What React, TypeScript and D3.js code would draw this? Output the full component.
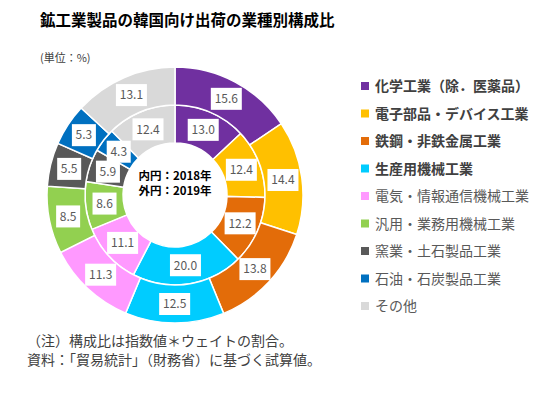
import { useEffect, useRef } from "react";
import * as d3 from "d3";

const categories = [
  "化学工業（除．医薬品）",
  "電子部品・デバイス工業",
  "鉄鋼・非鉄金属工業",
  "生産用機械工業",
  "電気・情報通信機械工業",
  "汎用・業務用機械工業",
  "窯業・土石製品工業",
  "石油・石炭製品工業",
  "その他",
];
const values2018 = [13.0, 12.4, 12.2, 20.0, 11.1, 8.6, 5.9, 4.3, 12.4];
const values2019 = [15.6, 14.4, 13.8, 12.5, 11.3, 8.5, 5.5, 5.3, 13.1];
const colors = [
  "#7030A0", "#FFC000", "#E36C09", "#00CCFF", "#FF99FF",
  "#92D050", "#595959", "#0070C0", "#D9D9D9",
];
const boldLegend = [true, true, true, true, false, false, false, false, false];

const FONT = "'Noto Sans CJK JP', 'Noto Sans', sans-serif";

export default function App() {
  const ref = useRef<SVGGElement>(null);

  useEffect(() => {
    const root = d3.select(ref.current);
    root.selectAll("*").remove();
    const cx = 175, cy = 195;
    const g = root.append("g").attr("transform", `translate(${cx},${cy})`);

    const pie = d3.pie<number>().sort(null).value((d) => d);

    const rings = [
      { data: values2018, r0: 52, r1: 90 },
      { data: values2019, r0: 90, r1: 128 },
    ];

    rings.forEach((ring) => {
      const arc = d3.arc<d3.PieArcDatum<number>>().innerRadius(ring.r0).outerRadius(ring.r1);
      const arcs = pie(ring.data);
      g.append("g")
        .selectAll("path")
        .data(arcs)
        .join("path")
        .attr("d", arc)
        .attr("fill", (d, i) => colors[i])
        .attr("stroke", "#fff")
        .attr("stroke-width", 1.5);

      const lab = g.append("g")
        .selectAll("g")
        .data(arcs)
        .join("g")
        .attr("transform", (d) => `translate(${arc.centroid(d)})`);
      lab.append("rect")
        .attr("x", (d) => (d.data >= 10 ? -15.5 : -12))
        .attr("y", -11)
        .attr("width", (d) => (d.data >= 10 ? 31 : 24))
        .attr("height", 22)
        .attr("fill", "#fff");
      lab.append("text")
        .attr("text-anchor", "middle")
        .attr("dy", "0.36em")
        .attr("font-size", 12)
        .attr("font-family", FONT)
        .attr("fill", "#595959")
        .text((d) => d.data.toFixed(1));
    });

    const center = g.append("g").attr("font-family", FONT).attr("font-weight", "bold")
      .attr("font-size", 11.5).attr("fill", "#000").attr("text-anchor", "middle");
    center.append("text").attr("y", -15).text("内円：2018年");
    center.append("text").attr("y", 0).text("外円：2019年");

    const legend = root.append("g").attr("font-family", FONT);
    const ly = d3.scaleLinear().domain([0, categories.length - 1]).range([85, 305]);
    categories.forEach((c, i) => {
      const row = legend.append("g").attr("transform", `translate(361,${ly(i)})`);
      row.append("rect").attr("x", 0).attr("y", -3).attr("width", 8).attr("height", 8)
        .attr("fill", colors[i]);
      row.append("text").attr("x", 14).attr("y", 6).attr("font-size", 14)
        .attr("font-weight", boldLegend[i] ? "bold" : "normal")
        .attr("fill", boldLegend[i] ? "#404040" : "#595959")
        .text(c);
    });
  }, []);

  return (
    <svg width={558} height={393}
      style={{ position: "absolute", left: 0, top: 0, background: "#fff" }}>
      <text x={40} y={26} fontFamily={FONT} fontWeight="bold" fontSize={15.5} fill="#000">
        鉱工業製品の韓国向け出荷の業種別構成比
      </text>
      <text x={40} y={62} fontFamily={FONT} fontSize={11} fill="#404040">
        (単位：%)
      </text>
      <text x={27} y={346} fontFamily={FONT} fontSize={14} fill="#404040">
        （注）構成比は指数値＊ウェイトの割合。
      </text>
      <text x={27} y={365} fontFamily={FONT} fontSize={14} fill="#404040">
        資料：「貿易統計」（財務省）に基づく試算値。
      </text>
      <g ref={ref} />
    </svg>
  );
}
